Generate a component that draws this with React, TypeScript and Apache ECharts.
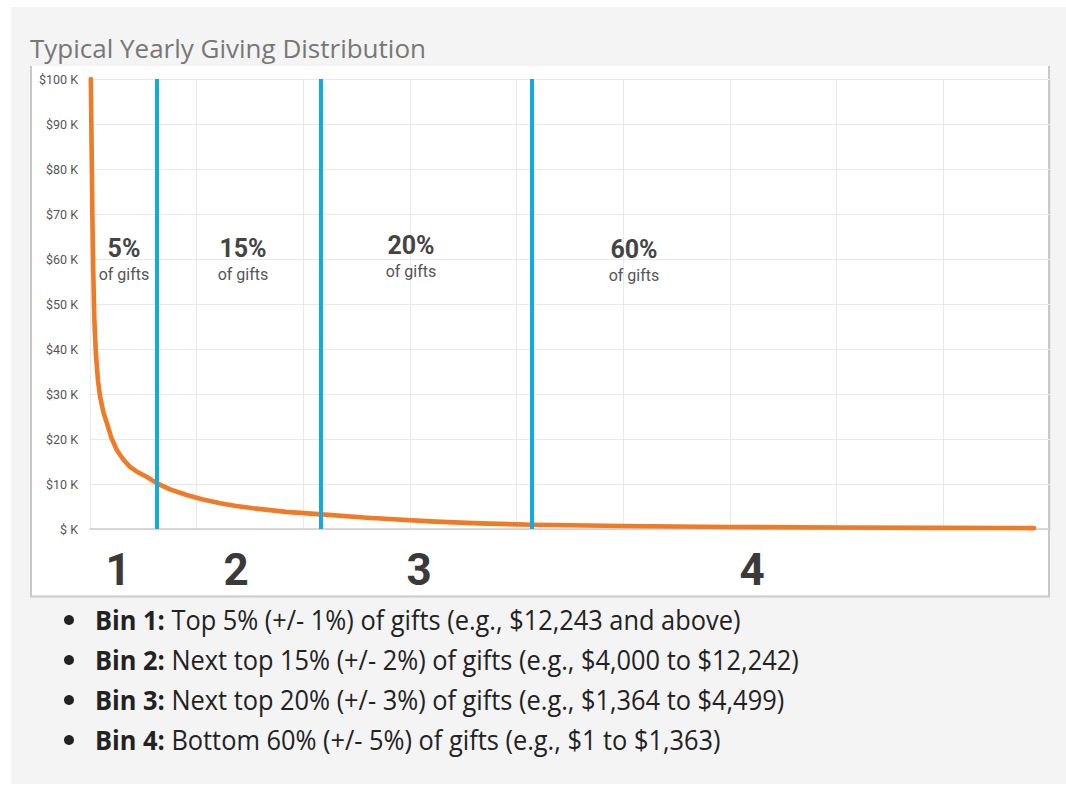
import React, { useEffect, useRef } from "react";
import * as echarts from "echarts";

// Data: gift rank (x) vs. yearly gift amount (y, dollars)
const giftRank = [0.8, 1.5, 2.2, 3, 4, 5.5, 7.5, 9.4, 12.5, 15.7, 20, 25, 31, 37.5, 45, 53, 62.5, 75, 90, 105, 122, 137, 153, 184, 214, 260, 319, 365, 415, 500, 600, 700, 800, 885];
const giftAmount = [100000, 85000, 70000, 58000, 47000, 39000, 33000, 29500, 26000, 23600, 20300, 17600, 15500, 13800, 12600, 11600, 10200, 8800, 7600, 6600, 5700, 5100, 4600, 3800, 3300, 2500, 1700, 1250, 950, 650, 450, 330, 260, 200];
const binBoundaries = [63, 216, 414];
const binShares = ["5%", "15%", "20%", "60%"];
const binNumbers = ["1", "2", "3", "4"];
const bulletBold = ["Bin 1:", "Bin 2:", "Bin 3:", "Bin 4:"];
const bulletText = [
  " Top 5% (+/- 1%) of gifts (e.g., $12,243 and above)",
  " Next top 15% (+/- 2%) of gifts (e.g., $4,000 to $12,242)",
  " Next top 20% (+/- 3%) of gifts (e.g., $1,364 to $4,499)",
  " Bottom 60% (+/- 5%) of gifts (e.g., $1 to $1,363)",
];
const title = "Typical Yearly Giving Distribution";

export default function App() {
  const ref = useRef<HTMLDivElement>(null);
  useEffect(() => {
    if (!ref.current) return;
    const chart = echarts.init(ref.current, null, { renderer: "svg" });

    const shareX = [124, 243, 411, 634];
    const shareY = [248, 248, 245, 249];
    const giftsY = [274, 274, 271, 275];
    const binX = [118, 236, 419, 752];

    const graphics: any[] = [
      { type: "rect", z: -10, shape: { x: 11, y: 7, width: 1055, height: 777 }, style: { fill: "#f4f4f4" } },
      { type: "rect", z: -9, shape: { x: 31, y: 66, width: 1018, height: 530 }, style: { fill: "#ffffff", stroke: "none" } },
      { type: "polyline", z: -8, shape: { points: [[31, 66], [31, 596.5], [1049, 596.5], [1049, 66]] }, style: { stroke: "#c9c9c9", lineWidth: 2, fill: "none" } },
      {
        type: "text", z: 50, x: 30, y: 48,
        style: { text: title, fontFamily: "Open Sans", fontSize: 26, fill: "#777777", verticalAlign: "middle", align: "left" },
      },
    ];
    binShares.forEach((s, i) => {
      graphics.push({
        type: "text", z: 50, x: shareX[i], y: shareY[i],
        style: { text: s, fontFamily: "Roboto", fontWeight: "bold", fontSize: 25, fill: "#444444", align: "center", verticalAlign: "middle" },
      });
      graphics.push({
        type: "text", z: 50, x: shareX[i], y: giftsY[i],
        style: { text: "of gifts", fontFamily: "Roboto", fontSize: 16, fill: "#555555", align: "center", verticalAlign: "middle" },
      });
    });
    binNumbers.forEach((n, i) => {
      graphics.push({
        type: "text", z: 50, x: binX[i], y: 570,
        style: { text: n, fontFamily: "Roboto", fontWeight: "bold", fontSize: 44, fill: "#3a3a3a", align: "center", verticalAlign: "middle" },
      });
    });
    bulletBold.forEach((b, i) => {
      const y = 620 + i * 40;
      graphics.push({ type: "circle", z: 50, shape: { cx: 69, cy: y, r: 5 }, style: { fill: "#222222" } });
      graphics.push({
        type: "text", z: 50, x: 95, y, scaleX: 0.94,
        style: {
          text: "{b|" + b + "}" + bulletText[i],
          fontFamily: "Open Sans", fontSize: 27, fill: "#222222", verticalAlign: "middle", align: "left",
          rich: { b: { fontFamily: "Open Sans", fontWeight: "bold", fontSize: 27, fill: "#222222" } },
        },
      });
    });

    chart.setOption({
      animation: false,
      grid: { left: 90, right: 16, top: 79, bottom: 256, containLabel: false },
      xAxis: {
        type: "value", min: 0, max: 900, interval: 100,
        axisLabel: { show: false }, axisTick: { show: false },
        axisLine: { show: true, lineStyle: { color: "#cccccc", width: 1.5 } },
        splitLine: { show: true, lineStyle: { color: "#e9e9e9", width: 1 } },
      },
      yAxis: {
        type: "value", min: 0, max: 100000, interval: 10000,
        axisLine: { show: false }, axisTick: { show: false },
        axisLabel: {
          margin: 12, fontFamily: "Roboto", fontSize: 12.5, color: "#555555",
          formatter: (v: number) => "$" + (v === 0 ? "" : String(v / 1000)) + " K",
        },
        splitLine: { show: true, lineStyle: { color: "#e9e9e9", width: 1 } },
      },
      series: [
        {
          type: "line",
          data: giftRank.map((x, i) => [x, giftAmount[i]]),
          showSymbol: false,
          smooth: false,
          clip: true,
          lineStyle: { color: "#ef7b27", width: 4.6, join: "round", cap: "round" },
          z: 3,
          markLine: {
            silent: true, symbol: "none", label: { show: false },
            lineStyle: { color: "#13a9e1", width: 4, type: "solid" },
            data: binBoundaries.map((x) => ({ xAxis: x })),
            z: 4,
          },
        },
      ],
      graphic: graphics,
    });
    return () => chart.dispose();
  }, []);
  return <div ref={ref} style={{ position: "absolute", left: 0, top: 0, width: 1066, height: 785 }} />;
}
